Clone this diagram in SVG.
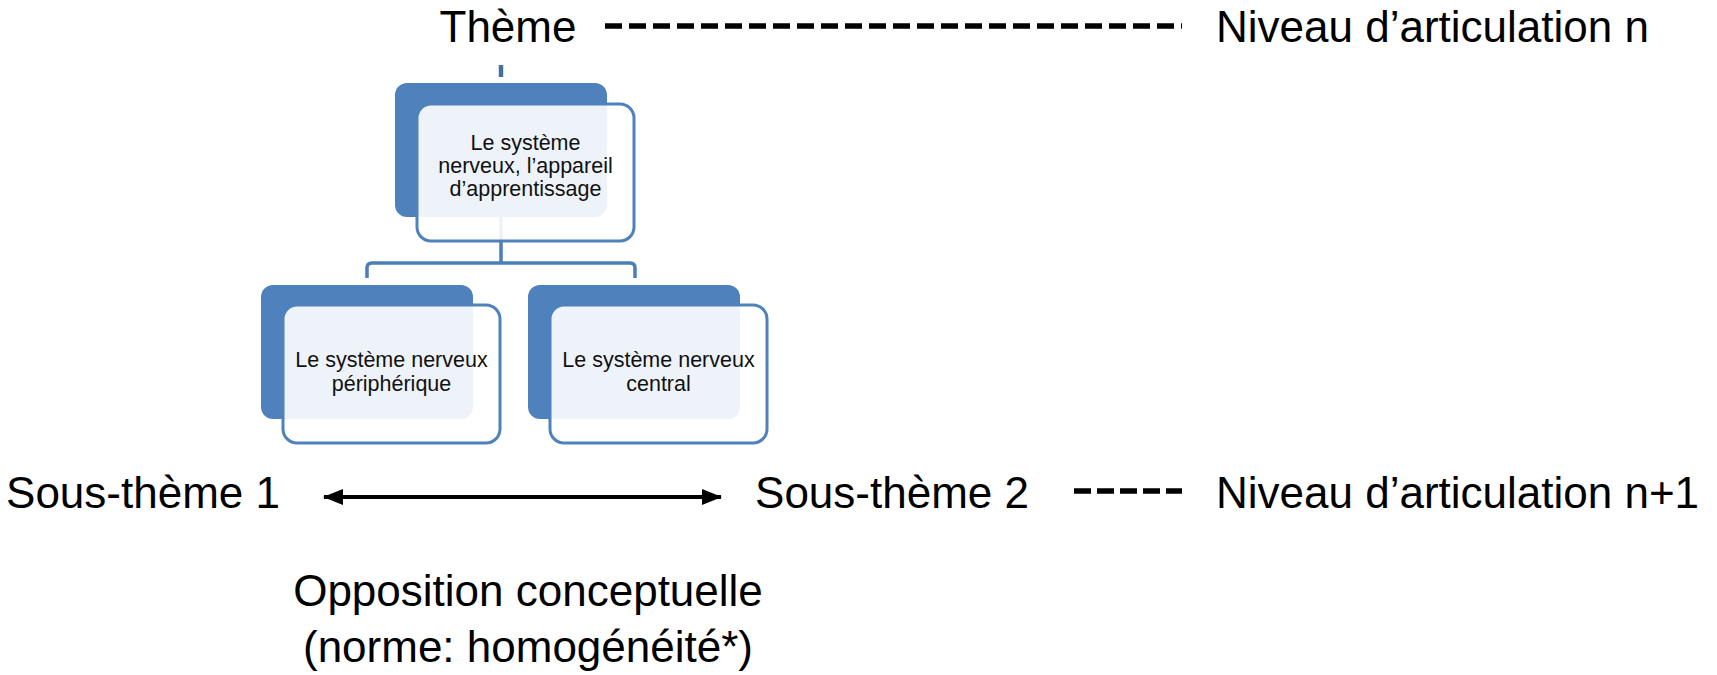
<svg xmlns="http://www.w3.org/2000/svg" width="1717" height="675" viewBox="0 0 1717 675">
  <style>
    .big { font-family: "Liberation Sans", Arial, sans-serif; font-size: 44px; fill: #000; }
    .small { font-family: "Liberation Sans", Arial, sans-serif; font-size: 21.5px; fill: #111; text-anchor: middle; }
    .back { fill: #4F81BD; }
    .front { fill: #FFFFFF; fill-opacity: 0.9; stroke: #4F81BD; stroke-width: 3; }
    .conn { fill: none; stroke: #4A7EBB; stroke-width: 3.5; stroke-linejoin: round; }
    .dash { fill: none; stroke: #000; stroke-width: 5.5; }
  </style>
  <defs>
    <marker id="arrowhead" markerUnits="userSpaceOnUse" markerWidth="20" markerHeight="16" refX="19" refY="8" orient="auto-start-reverse">
      <path d="M0,0 L20,8 L0,16 Z" fill="#000"/>
    </marker>
  </defs>

  <g id="connectors">
    <line x1="501" y1="65" x2="501" y2="77" stroke="#41719C" stroke-width="4.5"/>
    <path class="conn" d="M501,217 V263"/>
    <path class="conn" d="M367,278 V268 Q367,263 372,263 H630 Q635,263 635,268 V278"/>
    <line class="dash" x1="605" y1="26" x2="1182" y2="26" stroke-dasharray="17 7"/>
    <line class="dash" x1="1074" y1="491" x2="1182" y2="491" stroke-dasharray="17 6"/>
    <line x1="324" y1="497" x2="721" y2="497" stroke="#000" stroke-width="4" marker-start="url(#arrowhead)" marker-end="url(#arrowhead)"/>
  </g>

  <g id="node-top">
    <rect class="back" x="395" y="83" width="212" height="134" rx="12"/>
    <rect class="front" x="417" y="104" width="217" height="137" rx="14"/>
    <text class="small" x="525.5" y="150">Le système</text>
    <text class="small" x="525.5" y="173">nerveux, l’appareil</text>
    <text class="small" x="525.5" y="196">d’apprentissage</text>
  </g>

  <g id="node-left">
    <rect class="back" x="261" y="285" width="212" height="134" rx="12"/>
    <rect class="front" x="283" y="305" width="217" height="138" rx="14"/>
    <text class="small" x="391.5" y="367">Le système nerveux</text>
    <text class="small" x="391.5" y="391">périphérique</text>
  </g>

  <g id="node-right">
    <rect class="back" x="528" y="285" width="212" height="134" rx="12"/>
    <rect class="front" x="550" y="305" width="217" height="138" rx="14"/>
    <text class="small" x="658.5" y="367">Le système nerveux</text>
    <text class="small" x="658.5" y="391">central</text>
  </g>

  <g id="labels">
    <text class="big" x="508" y="42" text-anchor="middle">Thème</text>
    <text class="big" x="1216" y="42">Niveau d’articulation n</text>
    <text class="big" x="143" y="508" text-anchor="middle">Sous-thème 1</text>
    <text class="big" x="892" y="508" text-anchor="middle">Sous-thème 2</text>
    <text class="big" x="1216" y="508">Niveau d’articulation n+1</text>
    <text class="big" x="528" y="606" text-anchor="middle">Opposition conceptuelle</text>
    <text class="big" x="528" y="662" text-anchor="middle">(norme: homogénéité*)</text>
  </g>
</svg>
